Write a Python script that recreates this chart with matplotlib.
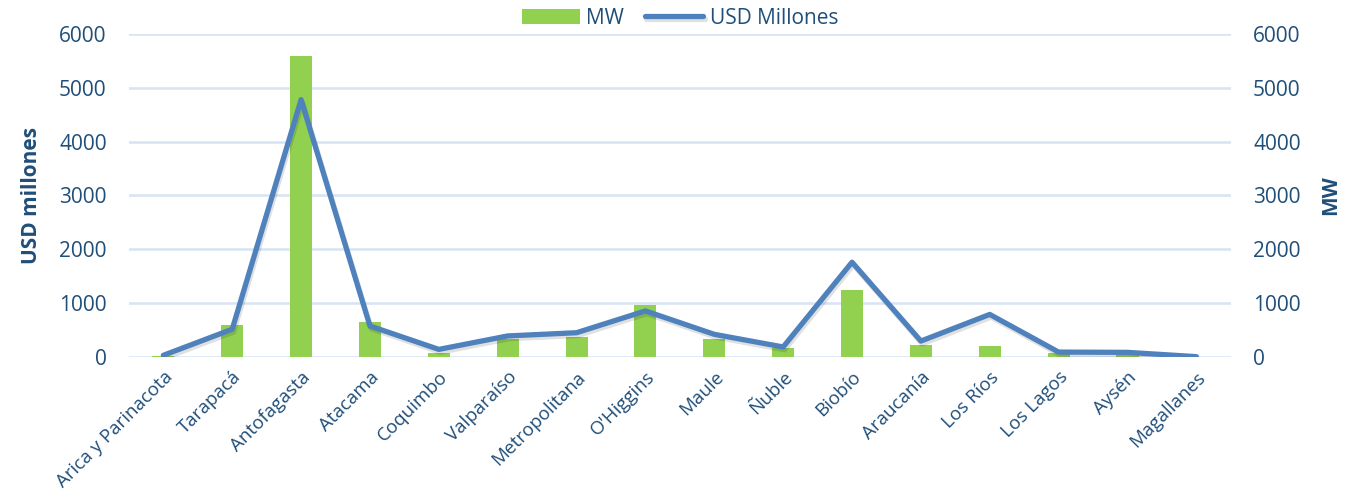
import numpy as np
import matplotlib
matplotlib.use("Agg")
import matplotlib.pyplot as plt
import matplotlib.patheffects as pe

# Data
regiones = ["Arica y Parinacota", "Tarapacá", "Antofagasta", "Atacama", "Coquimbo",
            "Valparaíso", "Metropolitana", "O'Higgins", "Maule", "Ñuble", "Biobío",
            "Araucanía", "Los Ríos", "Los Lagos", "Aysén", "Magallanes"]
mw = [20, 595, 5600, 640, 80, 330, 370, 960, 340, 160, 1240, 220, 205, 80, 30, 5]
usd_millones = [30, 515, 4780, 575, 140, 390, 450, 855, 420, 185, 1760, 295, 790, 90, 85, 5]

txt = "#1F4E79"
green = "#92D050"
blue = "#4F81BD"
grid = "#D6E4F4"

plt.rcParams["font.family"] = ["Open Sans", "DejaVu Sans"]

fig = plt.figure(figsize=(13.57, 4.93), dpi=100)
ax = fig.add_axes([0.095, 0.276, 0.812, 0.655])
ax2 = ax.twinx()

x = np.arange(len(regiones))

# bars on the secondary axis (MW), line on the primary (USD)
ax2.bar(x, mw, width=0.32, color=green, zorder=2, label="MW")
ax.set_zorder(ax2.get_zorder() + 1)
ax.patch.set_visible(False)
ax.plot(x, usd_millones, color=blue, lw=3.8, solid_capstyle="round", solid_joinstyle="round",
        label="USD Millones",
        path_effects=[pe.SimpleLineShadow(offset=(1, -2), alpha=0.12), pe.Normal()])

for a in (ax, ax2):
    a.set_ylim(0, 6000)
    a.set_yticks(np.arange(0, 6001, 1000))
    a.set_xlim(-0.5, len(regiones) - 0.5)
    for s in a.spines.values():
        s.set_visible(False)
    a.tick_params(axis="y", length=0, labelsize=15, labelcolor=txt, pad=16)

ax2.yaxis.grid(True, color=grid, lw=1.8)
ax2.set_axisbelow(True)

ax.set_xticks(x)
ax.set_xticklabels(regiones, rotation=45, ha="right", rotation_mode="anchor",
                   fontsize=13.5, color=txt)
ax.tick_params(axis="x", length=0, pad=8)

ax.set_ylabel("USD millones", fontsize=15, fontweight="bold", color=txt, labelpad=12)
ax2.set_ylabel("MW", fontsize=15, fontweight="bold", color=txt, labelpad=14)

h2, l2 = ax2.get_legend_handles_labels()
h1, l1 = ax.get_legend_handles_labels()
fig.legend(h2 + h1, l2 + l1, loc="center", bbox_to_anchor=(0.501, 0.963), ncol=2,
           frameon=False, fontsize=15, labelcolor=txt, handlelength=2.8,
           handletextpad=0.3, columnspacing=1.0)

fig.savefig("out.png", dpi=100)
